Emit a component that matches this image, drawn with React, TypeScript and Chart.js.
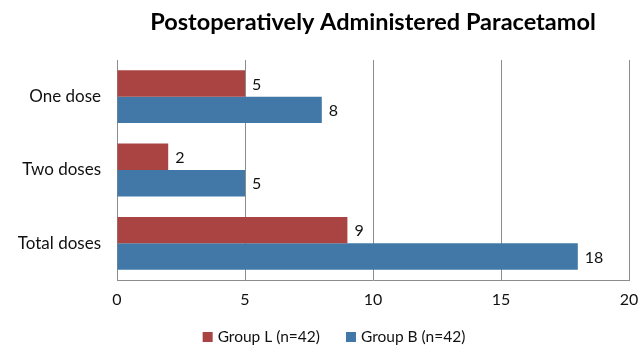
import React, { useEffect, useRef } from "react";
import { Chart, registerables } from "chart.js";

Chart.register(...registerables);

const categories = ["One dose", "Two doses", "Total doses"];
const groupL = [5, 2, 9];
const groupB = [8, 5, 18];
const seriesNames = ["Group L (n=42)", "Group B (n=42)"];
const seriesColors = ["#AA4442", "#4178A8"];
const titleText = "Postoperatively Administered Paracetamol";
const FONT = "Lato, 'Open Sans', sans-serif";

const overlay = {
  id: "overlay",
  afterDraw(chart: any) {
    const ctx = chart.ctx;
    const area = chart.chartArea;
    ctx.save();
    // title
    ctx.fillStyle = "#000";
    ctx.font = `bold 23.5px ${FONT}`;
    ctx.textAlign = "center";
    ctx.textBaseline = "middle";
    ctx.fillText(titleText, (area.left + area.right) / 2, 22);
    // data labels
    ctx.font = `16px ${FONT}`;
    ctx.textAlign = "left";
    ctx.fillStyle = "#111";
    chart.data.datasets.forEach((ds: any, di: number) => {
      const meta = chart.getDatasetMeta(di);
      meta.data.forEach((bar: any, i: number) => {
        ctx.fillText(String(ds.data[i]), bar.x + 7, bar.y + 1);
      });
    });
    // legend
    ctx.font = `15.5px ${FONT}`;
    const ly = 337;
    const box = 10;
    const textGap = 5;
    const itemGap = 26;
    const widths = seriesNames.map((n) => box + textGap + ctx.measureText(n).width);
    const total = widths.reduce((a, b) => a + b, 0) + itemGap * (seriesNames.length - 1);
    let x = 334 - total / 2;
    seriesNames.forEach((n, i) => {
      ctx.fillStyle = seriesColors[i];
      ctx.fillRect(x, ly - box / 2, box, box);
      ctx.fillStyle = "#111";
      ctx.textBaseline = "middle";
      ctx.fillText(n, x + box + textGap, ly);
      x += widths[i] + itemGap;
    });
    ctx.restore();
  },
};

export default function App() {
  const ref = useRef<HTMLCanvasElement>(null);
  useEffect(() => {
    document.body.style.margin = "0";
    const chart = new Chart(ref.current!, {
      type: "bar",
      data: {
        labels: categories,
        datasets: [
          { label: seriesNames[0], data: groupL, backgroundColor: seriesColors[0] },
          { label: seriesNames[1], data: groupB, backgroundColor: seriesColors[1] },
        ],
      },
      options: {
        indexAxis: "y",
        animation: false,
        responsive: false,
        maintainAspectRatio: false,
        layout: { padding: { top: 60, right: 10, left: 0, bottom: 35 } },
        datasets: { bar: { categoryPercentage: 0.72, barPercentage: 1.0 } },
        plugins: { legend: { display: false }, title: { display: false }, tooltip: { enabled: false } },
        scales: {
          x: {
            min: 0,
            max: 20,
            ticks: { stepSize: 5, color: "#111", font: { family: FONT, size: 16 }, padding: 10 },
            grid: { color: "#8c8c8c", drawTicks: false },
            border: { display: true, color: "#8c8c8c" },
            afterFit: (s: any) => { s.height = 30; s.paddingLeft = 0; s.paddingRight = 0; },
          },
          y: {
            ticks: { color: "#111", font: { family: FONT, size: 17 }, padding: 16 },
            grid: { display: false, drawTicks: false },
            border: { display: true, color: "#8c8c8c" },
            afterFit: (s: any) => { s.width = 117; s.paddingTop = 0; s.paddingBottom = 0; },
          },
        },
      },
      plugins: [overlay],
    });
    return () => chart.destroy();
  }, []);
  return <canvas ref={ref} width={639} height={345} style={{ display: "block" }} />;
}
